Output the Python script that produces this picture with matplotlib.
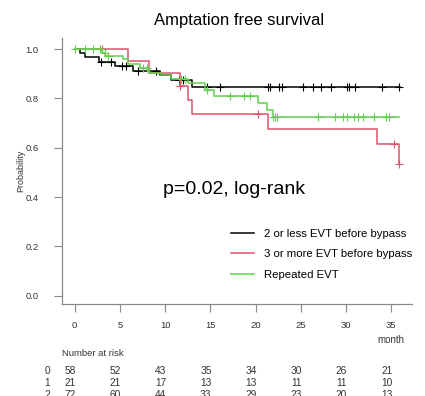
import numpy as np
import matplotlib.pyplot as plt
import matplotlib.transforms as mtransforms

plt.rcParams['font.family'] = ['Liberation Sans', 'DejaVu Sans']

# step curves: event times and survival after each event
t_black = [0, 0.6, 1.1, 2.7, 4.5, 6.5, 9.4, 10.7, 13.0]
s_black = [1.0, 0.983, 0.966, 0.948, 0.931, 0.913, 0.895, 0.876, 0.847]
c_black = [2.9, 4.0, 5.2, 5.7, 7.0, 9.0, 11.5, 12.0, 14.6, 16.1, 21.4, 21.6, 22.6, 22.9,
           25.2, 26.4, 27.2, 28.3, 30.1, 30.3, 31.0, 34.0, 35.9]
end_black = 36.0

t_red = [0, 5.85, 8.25, 11.6, 12.55, 13.0, 21.4, 33.4, 35.9]
s_red = [1.0, 0.952, 0.905, 0.85, 0.793, 0.736, 0.675, 0.613, 0.533]
c_red = [3.0, 11.6, 20.3, 35.3, 35.9]
end_red = 35.9

t_green = [0, 3.0, 3.4, 5.4, 5.9, 7.2, 8.2, 9.5, 10.7, 12.5, 14.4, 15.4, 20.3, 21.3, 21.9]
s_green = [1.0, 0.986, 0.972, 0.958, 0.94, 0.922, 0.904, 0.895, 0.88, 0.862, 0.834,
           0.809, 0.78, 0.753, 0.725]
c_green = [0.03, 1.1, 2.0, 2.8, 3.3, 3.7, 7.6, 8.0, 11.8, 12.2, 14.6, 17.2, 18.7, 19.4,
           21.9, 22.2, 22.4, 26.9, 28.8, 29.7, 30.1, 30.9, 31.3, 31.9, 33.1, 34.4, 34.8]
end_green = 35.9

labels = ['2 or less EVT before bypass', '3 or more EVT before bypass', 'Repeated EVT']
colors = ['#000000', '#DF536B', '#61D04F']

risk_times = [0, 5, 10, 15, 20, 25, 30, 35]
risk_rows = ['0', '1', '2']
risk_0 = [58, 52, 43, 35, 34, 30, 26, 21]
risk_1 = [21, 21, 17, 13, 13, 11, 11, 10]
risk_2 = [72, 60, 44, 33, 29, 23, 20, 13]

fig = plt.figure(figsize=(4.25, 3.96), dpi=100)
ax = fig.add_axes([62/425, 1-304/396, 350/425, 266/396])

groups = [(t_black, s_black, c_black, end_black),
          (t_red, s_red, c_red, end_red),
          (t_green, s_green, c_green, end_green)]

for (t, s, c, e), col, lab in zip(groups, colors, labels):
    tt = np.array(t + [e])
    ss = np.array(s + [s[-1]])
    ax.step(tt, ss, where='post', color=col, lw=1.1, label=lab)
    idx = np.searchsorted(np.array(t), np.array(c), side='right') - 1
    ax.plot(c, np.array(s)[idx], ls='none', marker='+', ms=6, mew=0.8, color=col)

ax.set_xlim(-1.4, 37.3)
ax.set_ylim(-0.034, 1.045)
ax.set_xticks(risk_times)
ax.set_yticks([0.0, 0.2, 0.4, 0.6, 0.8, 1.0])
ax.set_yticklabels(['0.0', '0.2', '0.4', '0.6', '0.8', '1.0'])
for sp in ['top', 'right']:
    ax.spines[sp].set_visible(False)
for sp in ['left', 'bottom']:
    ax.spines[sp].set_color('#888888')
    ax.spines[sp].set_linewidth(0.9)
ax.tick_params(axis='both', colors='#888888', labelcolor='#333333', labelsize=6.8, length=6, width=0.8)
ax.tick_params(axis='y', pad=11)
ax.tick_params(axis='x', pad=6)

ax.set_ylabel('Probability', fontsize=6.5, color='#333333')
ax.yaxis.set_label_coords(-0.105, 0.5)

fig.text(239/425, 1-20/396, 'Amptation free survival', ha='center', va='center', fontsize=12)
ax.text(17.6, 0.43, 'p=0.02, log-rank', ha='center', va='center', fontsize=14)

ax.legend(loc='upper left', bbox_to_anchor=(231/425, 1-229/396), bbox_transform=fig.transFigure,
          frameon=False, fontsize=8.2, handlelength=2.0, handletextpad=0.9, labelspacing=0.9,
          borderpad=0, borderaxespad=0)

tr = mtransforms.blended_transform_factory(ax.transData, fig.transFigure)
ax.text(35, 1-340/396, 'month', transform=tr, ha='center', va='center', fontsize=7, color='#333333')
ax.text(-1.4, 1-353/396, 'Number at risk', transform=tr, ha='left', va='center', fontsize=6.8, color='#333333')
for row, vals, ypx in zip(risk_rows, [risk_0, risk_1, risk_2], [371, 383, 395]):
    ax.text(-3.05, 1-ypx/396, row, transform=tr, ha='center', va='center', fontsize=7.3, color='#333333')
    for tm, v in zip(risk_times, vals):
        ax.text(tm-0.5, 1-ypx/396, str(v), transform=tr, ha='center', va='center', fontsize=7.3, color='#333333')

fig.savefig('out.png', dpi=100)
